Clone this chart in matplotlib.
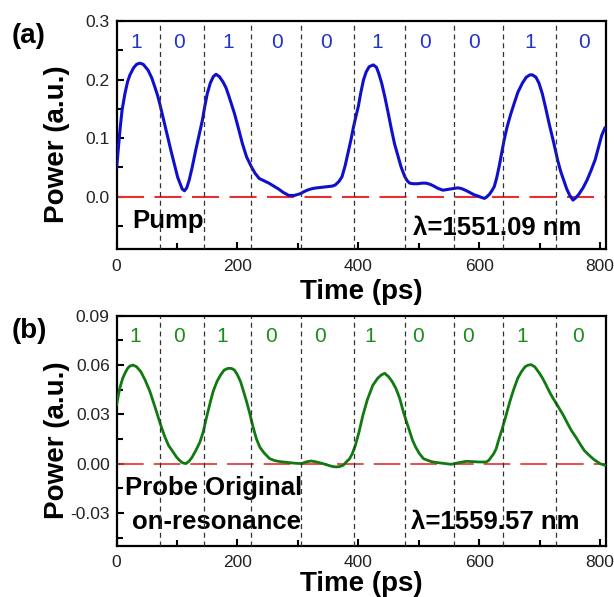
import matplotlib
matplotlib.use("Agg")
import matplotlib.pyplot as plt
from matplotlib.ticker import MultipleLocator, FormatStrFormatter

plt.rcParams["font.family"] = ["Liberation Sans", "DejaVu Sans"]

# bit slot boundaries (ps) and the pattern carried in each slot
bit_edges = [72, 144, 223, 305, 393, 478, 558, 639, 727]
bit_centers_a = [32, 103, 184, 265, 346, 432, 511, 592, 684, 774]
bit_centers_b = [31, 103, 175, 255, 336, 419, 499, 581, 672, 764]
bits = ["1", "0", "1", "0", "0", "1", "0", "0", "1", "0"]

# pump trace (panel a)
pump_t = [0, 3, 5.5, 9, 13.7, 18, 22, 28, 33, 38.3, 44, 52, 58, 63, 68, 72, 78,
          83, 90, 96.5, 101, 104.7, 108.5, 112.3, 116, 120, 125, 131, 137, 142,
          146, 150, 155, 160, 164.5, 170, 176, 181, 186, 190, 195, 202, 208,
          215, 223, 229, 236, 244, 252, 260, 268, 276, 285, 294, 304, 311, 318,
          325, 331.6, 340, 350, 357, 362, 368, 373, 378, 383, 388, 392, 396,
          400, 404, 408.5, 413, 418, 424.8, 430, 434, 438.6, 444, 450, 455, 460,
          466, 471, 477, 481, 485, 491, 498, 505, 512.5, 519, 525, 532, 540,
          546, 552, 558, 564.6, 570, 575, 581, 586.5, 592, 598, 603, 608.6, 612,
          617, 621, 625, 629, 633, 637, 641.4, 646, 652, 657.9, 664, 671.6, 678,
          684, 688, 694, 699, 704.5, 710, 716, 723.7, 730, 735, 740, 745, 750,
          755.4, 760, 765, 772, 778.5, 785, 792, 798, 803, 808]
pump_p = [0.050, 0.085, 0.114, 0.148, 0.176, 0.196, 0.208, 0.220, 0.226, 0.228,
          0.226, 0.216, 0.203, 0.188, 0.172, 0.156, 0.130, 0.108, 0.078, 0.051,
          0.033, 0.023, 0.013, 0.010, 0.015, 0.028, 0.050, 0.080, 0.108, 0.131,
          0.155, 0.176, 0.194, 0.205, 0.209, 0.205, 0.196, 0.186, 0.171, 0.158,
          0.142, 0.115, 0.091, 0.068, 0.051, 0.040, 0.031, 0.027, 0.023, 0.018,
          0.013, 0.007, 0.002, 0.002, 0.005, 0.009, 0.012, 0.014, 0.015, 0.016,
          0.017, 0.018, 0.020, 0.026, 0.034, 0.052, 0.075, 0.098, 0.119, 0.137,
          0.154, 0.177, 0.199, 0.213, 0.222, 0.225, 0.221, 0.210, 0.194, 0.170,
          0.140, 0.114, 0.090, 0.068, 0.050, 0.034, 0.027, 0.023, 0.022, 0.022,
          0.023, 0.023, 0.021, 0.018, 0.014, 0.011, 0.012, 0.013, 0.014, 0.015,
          0.014, 0.012, 0.009, 0.006, 0.003, 0.001, -0.001, -0.003, -0.001,
          0.004, 0.010, 0.017, 0.032, 0.051, 0.073, 0.097, 0.118, 0.140, 0.159,
          0.178, 0.194, 0.204, 0.208, 0.208, 0.204, 0.194, 0.176, 0.152, 0.124,
          0.091, 0.062, 0.043, 0.028, 0.013, 0.002, -0.006, -0.002, 0.004,
          0.015, 0.028, 0.044, 0.063, 0.086, 0.105, 0.117]

# probe trace, original on-resonance (panel b)
probe_t = [0, 3, 6, 10, 13.7, 18, 22, 27.4, 33, 40, 47, 55, 63, 71.6, 79, 86,
           93.6, 99, 104, 109, 114.5, 120, 125, 131, 137.7, 143, 148, 154, 159.7,
           166, 172, 178, 184, 190, 195, 200, 205, 210, 214.9, 220, 226, 231.4,
           237, 243, 248, 253.4, 262, 271, 281, 293, 305.8, 314, 322.3, 331,
           341.5, 352, 358, 363.6, 369, 375, 380, 385.6, 390, 395, 401, 407.6,
           415, 424, 432, 438, 443.5, 450, 456, 462, 468.3, 475, 482, 490, 495,
           501.3, 508, 515, 521, 528.9, 540, 553.7, 565, 578.5, 590, 600, 611.6,
           616, 620, 624, 628.1, 632, 638, 644.6, 651, 657, 663.9, 670, 676, 681,
           686, 692, 700, 705, 710.7, 716, 722, 727, 732.8, 740, 747, 753, 760.3,
           767, 774, 782.3, 790, 800, 808]
probe_p = [0.036, 0.042, 0.047, 0.052, 0.055, 0.058, 0.0595, 0.060, 0.059,
           0.056, 0.051, 0.044, 0.035, 0.025, 0.017, 0.011, 0.007, 0.004, 0.002,
           0.0005, 0.000, 0.0015, 0.004, 0.008, 0.013, 0.019, 0.027, 0.036,
           0.044, 0.050, 0.054, 0.057, 0.058, 0.058, 0.057, 0.054, 0.050, 0.044,
           0.038, 0.031, 0.022, 0.015, 0.010, 0.007, 0.005, 0.003, 0.0018,
           0.0012, 0.0008, 0.0003, 0.0, 0.0011, 0.0016, 0.0010, 0.0, -0.0012,
           -0.0018, -0.002, -0.0018, -0.001, 0.001, 0.003, 0.006, 0.011, 0.019,
           0.0295, 0.039, 0.0477, 0.052, 0.054, 0.055, 0.053, 0.050, 0.046,
           0.040, 0.031, 0.023, 0.014, 0.010, 0.006, 0.003, 0.002, 0.0012,
           0.0007, 0.0002, -0.0004, 0.0005, 0.0014, 0.0012, 0.001, 0.001, 0.002,
           0.004, 0.006, 0.009, 0.014, 0.021, 0.0295, 0.038, 0.045, 0.052,
           0.056, 0.059, 0.060, 0.0603, 0.059, 0.055, 0.052, 0.048, 0.044,
           0.040, 0.037, 0.0335, 0.029, 0.024, 0.020, 0.016, 0.012, 0.008,
           0.005, 0.0025, 0.0, -0.001]

fig = plt.figure(figsize=(6.14, 5.97), dpi=100)
ax_a = fig.add_axes([0.190, 0.5824, 0.797, 0.3824])
ax_b = fig.add_axes([0.190, 0.0859, 0.797, 0.3850])


def style_axes(ax, ylim, major, minor, fmt, xlabel_y):
    ax.set_xlim(0, 810)
    ax.set_ylim(*ylim)
    ax.xaxis.set_major_locator(MultipleLocator(200))
    ax.xaxis.set_minor_locator(MultipleLocator(100))
    ax.yaxis.set_major_locator(MultipleLocator(major))
    ax.yaxis.set_minor_locator(MultipleLocator(minor))
    ax.yaxis.set_major_formatter(FormatStrFormatter(fmt))
    ax.tick_params(which="both", direction="in", top=False, right=False,
                   width=1.5, labelsize=12.5, labelcolor="#222222")
    ax.tick_params(which="major", length=5)
    ax.tick_params(which="minor", length=4)
    ax.tick_params(axis="x", pad=7)
    ax.tick_params(axis="y", pad=5)
    for s in ax.spines.values():
        s.set_linewidth(1.6)
    ax.set_xlabel("Time (ps)", fontsize=20, fontweight="bold")
    ax.set_ylabel("Power (a.u.)", fontsize=20, fontweight="bold")
    ax.xaxis.set_label_coords(0.5, xlabel_y)
    ax.yaxis.set_label_coords(-0.095, 0.46)
    for x in bit_edges:
        ax.axvline(x, color="#333333", lw=0.9, ls=(0, (4, 3)), zorder=4)


style_axes(ax_a, (-0.09, 0.3), 0.1, 0.05, "%.1f", -0.13)
style_axes(ax_b, (-0.05, 0.09), 0.03, 0.015, "%.2f", -0.112)

# panel a
ax_a.plot(pump_t, pump_p, color="#1010cc", lw=2.2, zorder=3)
ax_a.axhline(0, color="#e83030", lw=1.5, dashes=(13, 5), zorder=2)
for x, b in zip(bit_centers_a, bits):
    ax_a.text(x, 0.263, b, color="#2233cc", fontsize=15, ha="center", va="center")
ax_a.text(26, -0.054, "Pump", fontsize=18.5, fontweight="bold", zorder=1)
ax_a.text(490, -0.065, "λ=1551.09 nm", fontsize=18.5, fontweight="bold", zorder=1)
fig.text(0.047, 0.94, "(a)", fontsize=20, fontweight="bold", ha="center", va="center")

# panel b
ax_b.plot(probe_t, probe_p, color="#107a10", lw=2.0, zorder=3)
ax_b.axhline(0, color="#e83030", lw=1.2, dashes=(16, 6), zorder=2)
for x, b in zip(bit_centers_b, bits):
    ax_b.text(x, 0.0772, b, color="#1a8c1a", fontsize=15, ha="center", va="center")
ax_b.text(14, -0.0193, "Probe Original", fontsize=18.5, fontweight="bold", zorder=1)
ax_b.text(26, -0.0396, "on-resonance", fontsize=18.5, fontweight="bold", zorder=1)
ax_b.text(488, -0.0396, "λ=1559.57 nm", fontsize=18.5, fontweight="bold", zorder=1)
fig.text(0.047, 0.445, "(b)", fontsize=20, fontweight="bold", ha="center", va="center")

fig.savefig("out.png", dpi=100)
